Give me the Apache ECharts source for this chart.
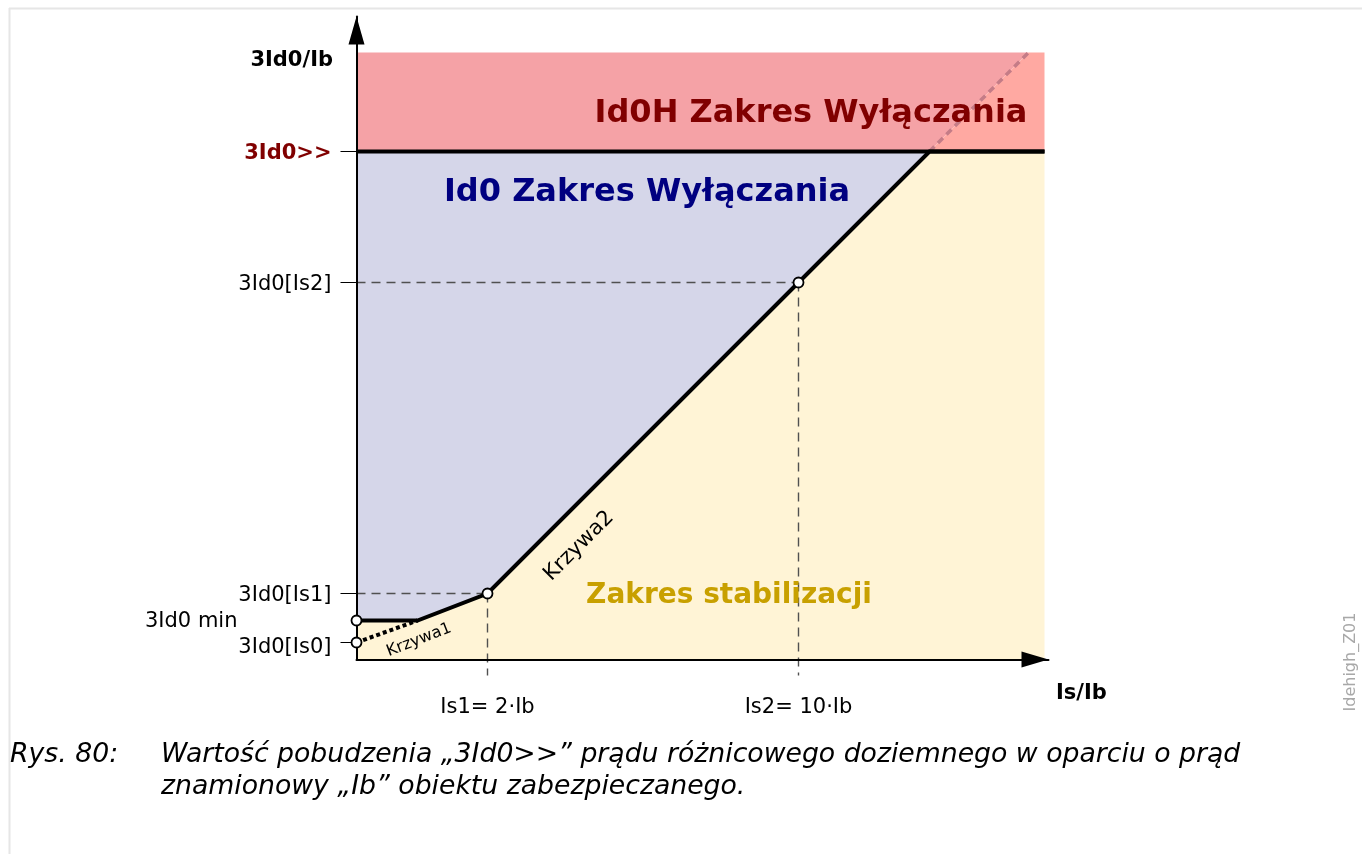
<!DOCTYPE html>
<html>
<head>
<meta charset="utf-8">
<script src="https://cdn.jsdelivr.net/npm/echarts@6/dist/echarts.min.js"></script>
<style>
  html, body { margin: 0; padding: 0; background: #ffffff; }
  #chart { width: 1362px; height: 854px; }
</style>
</head>
<body>
<div id="chart"></div>
<script>
// Schematic units: horizontal = Is/Ib, vertical = 3Id0/Ib (not to scale)
const xMax = 692;
const yMax = 643;
const plotRight = 688;
const plotTop = 607;

// Characteristic levels
const levelIs0 = 17;
const levelMin = 39;
const levelIs1 = 66;
const levelIs2 = 377;
const levelHigh = 508;

// Breakpoints along Is/Ib
const posKnee = 61;
const posIs1 = 131;
const posIs2 = 442;
const posHigh = 573;
const posTopEnd = 672;

const xTickValues = [posIs1, posIs2];
const xTickLabels = ['Is1= 2·Ib', 'Is2= 10·Ib'];
const yTickValues = [levelIs0, levelMin, levelIs1, levelIs2, levelHigh];
const yTickLabels = ['3Id0[Is0]', '3Id0 min', '3Id0[Is1]', '3Id0[Is2]', '3Id0>>'];

// Tripping characteristic (Krzywa1 / Krzywa2 limited by 3Id0>>)
const curve = [[0, levelMin], [posKnee, levelMin], [posIs1, levelIs1], [posIs2, levelIs2], [posHigh, levelHigh], [plotRight, levelHigh]];
const krzywa1Ext = [[0, levelIs0], [posKnee, levelMin]];
const krzywa2Ext = [[posHigh, levelHigh], [posTopEnd, plotTop]];
const highLine = [[0, levelHigh], [plotRight, levelHigh]];

// Regions
const stabRegion = [[0, 0], [0, levelMin], [posKnee, levelMin], [posIs1, levelIs1], [posIs2, levelIs2], [posHigh, levelHigh], [plotRight, levelHigh], [plotRight, 0]];
const tripRegion = [[0, levelMin], [posKnee, levelMin], [posIs1, levelIs1], [posIs2, levelIs2], [posHigh, levelHigh], [0, levelHigh]];
const highRegionLeft = [[0, levelHigh], [posHigh, levelHigh], [posTopEnd, plotTop], [0, plotTop]];
const highRegionRight = [[posHigh, levelHigh], [plotRight, levelHigh], [plotRight, plotTop], [posTopEnd, plotTop]];

// Guide lines
const guideMin = [[-105, levelMin], [0, levelMin]];
const guideIs1H = [[0, levelIs1], [posIs1, levelIs1]];
const guideIs2H = [[0, levelIs2], [posIs2, levelIs2]];
const guideIs1V = [[posIs1, levelIs1], [posIs1, -16]];
const guideIs2V = [[posIs2, levelIs2], [posIs2, -16]];

const markerPoints = [[0, levelMin], [0, levelIs0], [posIs1, levelIs1], [posIs2, levelIs2]];

const FONT = '"DejaVu Sans", sans-serif';

function polygonSeries(points, color) {
  return {
    type: 'custom',
    silent: true,
    z: 1,
    data: [0],
    renderItem: function (params, api) {
      return {
        type: 'polygon',
        shape: { points: points.map(function (p) { return api.coord(p); }) },
        style: { fill: color }
      };
    }
  };
}

function lineSeries(points, lineStyle, z) {
  return {
    type: 'line',
    data: points,
    showSymbol: false,
    symbol: 'none',
    silent: true,
    clip: false,
    z: z,
    lineStyle: lineStyle
  };
}

const guideStyle = { color: '#505050', width: 1.4, type: [9, 6] };

const chart = echarts.init(document.getElementById('chart'), null, { renderer: 'canvas' });

chart.setOption({
  animation: false,
  backgroundColor: '#ffffff',
  grid: { left: 356.5, top: 16.5, width: xMax, height: yMax, containLabel: false },
  xAxis: {
    type: 'value',
    min: 0,
    max: xMax,
    z: 10,
    splitLine: { show: false },
    axisTick: { show: false },
    axisLine: {
      show: true,
      lineStyle: { color: '#000000', width: 2 },
      symbol: ['none', 'triangle'],
      symbolSize: [16, 27],
      symbolOffset: [0, -13.5]
    },
    axisLabel: {
      customValues: xTickValues,
      margin: 38,
      fontFamily: FONT,
      fontSize: 21,
      color: '#000000',
      formatter: function (v) {
        const i = xTickValues.indexOf(v);
        return i < 0 ? '' : xTickLabels[i];
      }
    }
  },
  yAxis: {
    type: 'value',
    min: 0,
    max: yMax,
    z: 10,
    splitLine: { show: false },
    axisTick: {
      show: true,
      customValues: [levelIs0, levelIs1, levelIs2, levelHigh],
      length: 16,
      lineStyle: { color: '#000000', width: 1 }
    },
    axisLine: {
      show: true,
      lineStyle: { color: '#000000', width: 2 },
      symbol: ['none', 'triangle'],
      symbolSize: [16, 28],
      symbolOffset: [0, -14]
    },
    axisLabel: {
      customValues: yTickValues,
      margin: 25,
      formatter: function (v) {
        const i = yTickValues.indexOf(v);
        if (i < 0) return '';
        let key = 'n';
        if (v === levelHigh) key = 'high';
        else if (v === levelMin) key = 'min';
        else if (v === levelIs0) key = 'low';
        return '{' + key + '|' + yTickLabels[i] + '}';
      },
      rich: {
        n: { fontFamily: FONT, fontSize: 21, color: '#000000', padding: [5, 0, 0, 0] },
        low: { fontFamily: FONT, fontSize: 21, color: '#000000', padding: [10, 0, 0, 0] },
        min: { fontFamily: FONT, fontSize: 21, color: '#000000', padding: [3, 94, 0, 0] },
        high: { fontFamily: FONT, fontSize: 21, fontWeight: 'bold', color: '#800000', padding: [5, 0, 0, 0] }
      }
    }
  },
  series: [
    polygonSeries(stabRegion, '#FFF4D6'),
    polygonSeries(tripRegion, '#D5D6E9'),
    polygonSeries(highRegionLeft, '#F5A2A6'),
    polygonSeries(highRegionRight, '#FFA9A2'),
    lineSeries(guideMin, guideStyle, 3),
    lineSeries(guideIs1H, guideStyle, 3),
    lineSeries(guideIs2H, guideStyle, 3),
    lineSeries(guideIs1V, guideStyle, 3),
    lineSeries(guideIs2V, guideStyle, 3),
    lineSeries(krzywa2Ext, { color: '#C47C87', width: 3.5, type: [7, 5] }, 4),
    lineSeries(krzywa1Ext, { color: '#000000', width: 4, type: [4, 3] }, 5),
    lineSeries(highLine, { color: '#000000', width: 4 }, 5),
    lineSeries(curve, { color: '#000000', width: 4, join: 'miter' }, 6),
    {
      type: 'scatter',
      data: markerPoints,
      symbol: 'circle',
      symbolSize: 10,
      silent: true,
      clip: false,
      z: 12,
      itemStyle: { color: '#ffffff', borderColor: '#000000', borderWidth: 1.8, opacity: 1 }
    }
  ],
  graphic: [
    // page frame
    { type: 'line', z: 0, shape: { x1: 9, y1: 8.5, x2: 1362, y2: 8.5 }, style: { stroke: '#E6E6E6', lineWidth: 2 } },
    { type: 'line', z: 0, shape: { x1: 9.5, y1: 8, x2: 9.5, y2: 854 }, style: { stroke: '#E6E6E6', lineWidth: 2 } },
    // region names
    { type: 'text', z: 20, x: 811, y: 114, style: { text: 'Id0H Zakres Wyłączania', font: 'bold 32px "DejaVu Sans"', fill: '#800000', align: 'center', verticalAlign: 'middle' } },
    { type: 'text', z: 20, x: 647, y: 193, style: { text: 'Id0 Zakres Wyłączania', font: 'bold 32px "DejaVu Sans"', fill: '#000080', align: 'center', verticalAlign: 'middle' } },
    { type: 'text', z: 20, x: 729, y: 596, style: { text: 'Zakres stabilizacji', font: 'bold 28px "DejaVu Sans"', fill: '#C8A000', align: 'center', verticalAlign: 'middle' } },
    { type: 'text', z: 20, x: 579, y: 546, rotation: Math.PI / 4, style: { text: 'Krzywa2', font: '21px "DejaVu Sans"', fill: '#000000', align: 'center', verticalAlign: 'middle' } },
    { type: 'text', z: 20, x: 419, y: 640, rotation: 0.37, style: { text: 'Krzywa1', font: '16px "DejaVu Sans"', fill: '#000000', align: 'center', verticalAlign: 'middle' } },
    // axis names
    { type: 'text', z: 20, x: 333, y: 61, style: { text: '3Id0/Ib', font: 'bold 21px "DejaVu Sans"', fill: '#000000', align: 'right', verticalAlign: 'middle' } },
    { type: 'text', z: 20, x: 1056, y: 694, style: { text: 'Is/Ib', font: 'bold 21px "DejaVu Sans"', fill: '#000000', align: 'left', verticalAlign: 'middle' } },
    // drawing id
    { type: 'text', z: 20, x: 1351, y: 662, rotation: Math.PI / 2, style: { text: 'Idehigh_Z01', font: '16px "DejaVu Sans"', fill: '#A8A8A8', align: 'center', verticalAlign: 'middle' } },
    // caption
    { type: 'text', z: 20, x: 10, y: 755, style: { text: 'Rys. 80:', font: 'italic 26.7px "DejaVu Sans"', fill: '#000000', align: 'left', verticalAlign: 'middle' } },
    { type: 'text', z: 20, x: 161, y: 755, style: { text: 'Wartość pobudzenia „3Id0>>” prądu różnicowego doziemnego w oparciu o prąd', font: 'italic 26.7px "DejaVu Sans"', fill: '#000000', align: 'left', verticalAlign: 'middle' } },
    { type: 'text', z: 20, x: 161, y: 787, style: { text: 'znamionowy „Ib” obiektu zabezpieczanego.', font: 'italic 26.7px "DejaVu Sans"', fill: '#000000', align: 'left', verticalAlign: 'middle' } }
  ]
});
</script>
</body>
</html>
